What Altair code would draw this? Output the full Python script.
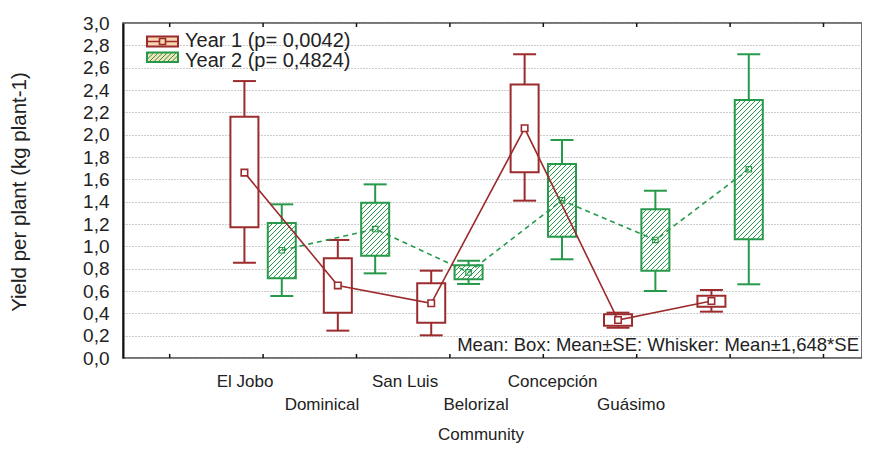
import math
import altair as alt
import pandas as pd

# ---------------- data ----------------
communities = ["El Jobo", "Dominical", "San Luis", "Belorizal", "Concepción", "Guásimo"]

y1_mean   = [1.66, 0.65, 0.49, 2.057, 0.34, 0.51]
y1_box_lo = [1.17, 0.405, 0.316, 1.663, 0.289, 0.459]
y1_box_hi = [2.16, 0.893, 0.669, 2.45, 0.391, 0.558]
y1_wh_lo  = [0.853, 0.245, 0.203, 1.409, 0.271, 0.415]
y1_wh_hi  = [2.48, 1.057, 0.782, 2.72, 0.406, 0.609]

y2_mean   = [0.965, 1.155, 0.767, 1.412, 1.057, 1.69]
y2_box_lo = [0.714, 0.916, 0.705, 1.086, 0.782, 1.063]
y2_box_hi = [1.21, 1.39, 0.83, 1.737, 1.332, 2.31]
y2_wh_lo  = [0.555, 0.758, 0.663, 0.884, 0.60, 0.66]
y2_wh_hi  = [1.376, 1.555, 0.871, 1.952, 1.498, 2.72]

legend_labels = ["Year 1 (p= 0,0042)", "Year 2 (p= 0,4824)"]
note_text = "Mean: Box: Mean±SE: Whisker: Mean±1,648*SE"
y_ticks = [round(0.2 * i, 1) for i in range(16)]
x_ticks = list(range(8))

# ---------------- layout / style ----------------
W, H = 739, 335
SX = 93.4
XMAX = -0.5 + W / SX
SY = H / 3.0
RED = "#9C2B2E"
GREEN = "#27994A"
FONT = "Liberation Sans"
TXT = "#222222"
BOX_HALF = 0.15
CAP_HALF = 0.123
OFFSET = 0.2
label_pos = [0.806, 1.63, 2.52, 3.28, 4.10, 4.94]   # where the tick labels sit

rows = []
for i, c in enumerate(communities):
    rows.append(dict(year="Year 1", comm=c, pos=i + 1 - OFFSET, mean=y1_mean[i],
                     blo=y1_box_lo[i], bhi=y1_box_hi[i], wlo=y1_wh_lo[i], whi=y1_wh_hi[i]))
for i, c in enumerate(communities):
    rows.append(dict(year="Year 2", comm=c, pos=i + 1 + OFFSET, mean=y2_mean[i],
                     blo=y2_box_lo[i], bhi=y2_box_hi[i], wlo=y2_wh_lo[i], whi=y2_wh_hi[i]))
df = pd.DataFrame(rows)
df["xl"] = df["pos"] - BOX_HALF
df["xh"] = df["pos"] + BOX_HALF
df["cl"] = df["pos"] - CAP_HALF
df["ch"] = df["pos"] + CAP_HALF
d1 = df[df.year == "Year 1"]
d2 = df[df.year == "Year 2"]


def hatch(xl, xh, yl, yh, step=5.0):
    """diagonal '/' hatch segments clipped to a box given in data units"""
    x0, x1 = (xl + 0.5) * SX, (xh + 0.5) * SX
    y0, y1 = yl * SY, yh * SY
    segs = []
    k = math.ceil((y0 - x1) / step) * step
    while k < y1 - x0:
        s = max(x0, y0 - k)
        e = min(x1, y1 - k)
        if e > s:
            segs.append(dict(hx=s / SX - 0.5, hy=(s + k) / SY, hx2=e / SX - 0.5, hy2=(e + k) / SY))
        k += step
    return segs


hatch_rows = []
for _, r in d2.iterrows():
    hatch_rows += hatch(r.xl, r.xh, r.blo, r.bhi)


def px2x(p):
    return p / SX - 0.5


def py2y(p):
    return (H - p) / SY


LG_X0, LG_X1 = 24.0, 55.0
LG1_Y0, LG1_Y1 = 13.5, 23.5
LG2_Y0, LG2_Y1 = 29.5, 39.0
leg_rect = pd.DataFrame([
    dict(k="Year 1", x=px2x(LG_X0), x2=px2x(LG_X1), y=py2y(LG1_Y1), y2=py2y(LG1_Y0)),
    dict(k="Year 2", x=px2x(LG_X0), x2=px2x(LG_X1), y=py2y(LG2_Y1), y2=py2y(LG2_Y0)),
])
leg_hatch = pd.DataFrame(hatch(px2x(LG_X0), px2x(LG_X1), py2y(LG2_Y1), py2y(LG2_Y0), step=4.5))

xs = alt.Scale(domain=[-0.5, XMAX], nice=False, zero=False)
ys = alt.Scale(domain=[0, 3], nice=False, zero=False)

yaxis = alt.Axis(values=y_ticks, labelExpr="replace(format(datum.value, '.1f'), '.', ',')",
                 grid=True, gridDash=[1, 2], gridColor="#9a9a9a", gridWidth=1,
                 ticks=False, domainColor="#111111", domainWidth=2,
                 labelFontSize=19, labelFont=FONT, labelColor=TXT, labelPadding=14, title=None)

X = lambda f: alt.X(f, type="quantitative", scale=xs, axis=None)
Y = lambda f: alt.Y(f, type="quantitative", scale=ys, axis=yaxis)

# x ticks (inward, top and bottom)
tick_df = pd.DataFrame({"t": x_ticks})
ticks_bottom = alt.Chart(tick_df).mark_rule(color="#111111", strokeWidth=1.5).encode(
    x=X("t"), y=alt.value(H), y2=alt.value(H - 4))
ticks_top = alt.Chart(tick_df).mark_rule(color="#111111", strokeWidth=1.5).encode(
    x=X("t"), y=alt.value(0), y2=alt.value(4))


def whiskers(d, color):
    up = alt.Chart(d).mark_rule(color=color, strokeWidth=2).encode(x=X("pos"), y=Y("bhi"), y2="whi")
    dn = alt.Chart(d).mark_rule(color=color, strokeWidth=2).encode(x=X("pos"), y=Y("wlo"), y2="blo")
    c1 = alt.Chart(d).mark_rule(color=color, strokeWidth=2).encode(x=X("cl"), x2="ch", y=Y("whi"))
    c2 = alt.Chart(d).mark_rule(color=color, strokeWidth=2).encode(x=X("cl"), x2="ch", y=Y("wlo"))
    return [up, dn, c1, c2]


box1 = alt.Chart(d1).mark_rect(fill="white", stroke=RED, strokeWidth=2).encode(
    x=X("xl"), x2="xh", y=Y("blo"), y2="bhi")
box2_fill = alt.Chart(d2).mark_rect(fill="white").encode(x=X("xl"), x2="xh", y=Y("blo"), y2="bhi")
hatch2 = alt.Chart(pd.DataFrame(hatch_rows)).mark_rule(color=GREEN, strokeWidth=1).encode(
    x=X("hx"), x2="hx2", y=Y("hy"), y2="hy2")
box2_line = alt.Chart(d2).mark_rect(fill=None, stroke=GREEN, strokeWidth=2).encode(
    x=X("xl"), x2="xh", y=Y("blo"), y2="bhi")

line1 = alt.Chart(d1).mark_line(color=RED, strokeWidth=1.6).encode(x=X("pos"), y=Y("mean"))
line2 = alt.Chart(d2).mark_line(color=GREEN, strokeWidth=1.6, strokeDash=[5, 4]).encode(
    x=X("pos"), y=Y("mean"))
pt1 = alt.Chart(d1).mark_square(size=42, filled=True, fill="white", stroke=RED, strokeWidth=1.6,
                                opacity=1).encode(x=X("pos"), y=Y("mean"))
pt2 = alt.Chart(d2).mark_square(size=30, filled=False, stroke=GREEN, strokeWidth=1.2,
                                opacity=1).encode(x=X("pos"), y=Y("mean"))

# x labels (staggered, as in the reference)
lab_df = pd.DataFrame({"lab": communities, "lx": label_pos,
                       "row": [i % 2 for i in range(len(communities))]})
labs_a = alt.Chart(lab_df[lab_df.row == 0]).mark_text(
    font=FONT, fontSize=17, color=TXT, baseline="middle", align="center").encode(
    x=X("lx"), y=alt.value(H + 24), text="lab:N")
labs_b = alt.Chart(lab_df[lab_df.row == 1]).mark_text(
    font=FONT, fontSize=17, color=TXT, baseline="middle", align="center").encode(
    x=X("lx"), y=alt.value(H + 47), text="lab:N")

one = pd.DataFrame({"a": [0]})
x_title = alt.Chart(one).mark_text(font=FONT, fontSize=17, color=TXT, baseline="middle",
                                   align="center", text="Community").encode(
    x=alt.value(358), y=alt.value(H + 77))
y_title = alt.Chart(one).mark_text(font=FONT, fontSize=20.5, color=TXT, baseline="middle",
                                   align="center", angle=270,
                                   text="Yield per plant (kg plant-1)").encode(
    x=alt.value(-103), y=alt.value(169))
note = alt.Chart(one).mark_text(font=FONT, fontSize=18.5, color=TXT, baseline="middle",
                                align="right", text=note_text).encode(
    x=alt.value(W - 3), y=alt.value(H - 13))

# legend
leg_r1 = alt.Chart(leg_rect[leg_rect.k == "Year 1"]).mark_rect(
    fill="#F7D7B0", stroke=RED, strokeWidth=2).encode(x=X("x"), x2="x2", y=Y("y"), y2="y2")
leg_r2 = alt.Chart(leg_rect[leg_rect.k == "Year 2"]).mark_rect(
    fill="#F4E3B8").encode(x=X("x"), x2="x2", y=Y("y"), y2="y2")
leg_h2 = alt.Chart(leg_hatch).mark_rule(color=GREEN, strokeWidth=1).encode(
    x=X("hx"), x2="hx2", y=Y("hy"), y2="hy2")
leg_r2b = alt.Chart(leg_rect[leg_rect.k == "Year 2"]).mark_rect(
    fill=None, stroke=GREEN, strokeWidth=2).encode(x=X("x"), x2="x2", y=Y("y"), y2="y2")
leg_mid = alt.Chart(one).mark_rule(color=RED, strokeWidth=1.5).encode(
    x=alt.value(LG_X0), x2=alt.value(LG_X1), y=alt.value((LG1_Y0 + LG1_Y1) / 2))
leg_pt = alt.Chart(one).mark_square(size=36, filled=True, fill="#F7D7B0", stroke=RED,
                                    strokeWidth=1.6, opacity=1).encode(
    x=alt.value((LG_X0 + LG_X1) / 2), y=alt.value((LG1_Y0 + LG1_Y1) / 2))
leg_t1 = alt.Chart(one).mark_text(font=FONT, fontSize=20, color=TXT, baseline="middle",
                                  align="left", text=legend_labels[0]).encode(
    x=alt.value(62), y=alt.value(17.5))
leg_t2 = alt.Chart(one).mark_text(font=FONT, fontSize=20, color=TXT, baseline="middle",
                                  align="left", text=legend_labels[1]).encode(
    x=alt.value(62), y=alt.value(38.0))

layers = [ticks_bottom, ticks_top, box1] + whiskers(d1, RED) + \
         [box2_fill, hatch2, box2_line] + whiskers(d2, GREEN) + \
         [line2, line1, pt2, pt1, labs_a, labs_b, x_title, y_title, note,
          leg_r1, leg_mid, leg_pt, leg_r2, leg_h2, leg_r2b, leg_t1, leg_t2]

chart = alt.layer(*layers).properties(
    width=W, height=H,
    autosize=alt.AutoSizeParams(type="none"),
    padding={"left": 115, "top": 15, "right": 0, "bottom": 85},
    background="white",
).configure_view(stroke="#444444", strokeWidth=1.5)

chart.save("out.html", embed_options={"renderer": "svg", "actions": False})
